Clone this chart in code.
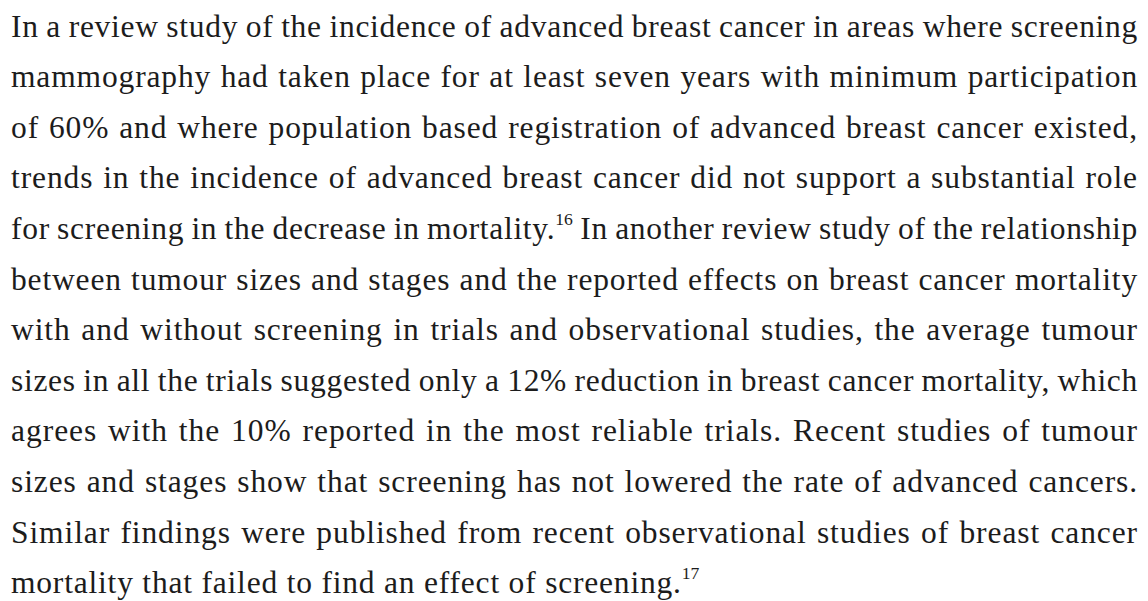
<!DOCTYPE html>
<html>
<head>
<meta charset="utf-8">
<script src="https://cdn.jsdelivr.net/npm/chart.js@4.4.1/dist/chart.umd.min.js"></script>
<style>
  html, body { margin: 0; padding: 0; background: #fff; }
  body { width: 1148px; height: 601px; overflow: hidden; }
  #para {
    position: absolute; left: 11px; top: 1.6px; width: 1127px;
    font-family: "Liberation Serif", "Times New Roman", serif;
    font-size: 31.5px; line-height: 50.6px; color: #1c1c1c;
  }
  .ln { white-space: nowrap; display: block; }
  sup { font-size: 56%; vertical-align: baseline; position: relative; top: -0.8em; line-height: 0; letter-spacing: 0; }
</style>
</head>
<body>
<div id="para"></div>
<script>
// the paragraph, one entry per printed line; ^n marks a superscript reference
const lines = [
  "In a review study of the incidence of advanced breast cancer in areas where screening",
  "mammography had taken place for at least seven years with minimum participation",
  "of 60% and where population based registration of advanced breast cancer existed,",
  "trends in the incidence of advanced breast cancer did not support a substantial role",
  "for screening in the decrease in mortality.^16 In another review study of the relationship",
  "between tumour sizes and stages and the reported effects on breast cancer mortality",
  "with and without screening in trials and observational studies, the average tumour",
  "sizes in all the trials suggested only a 12% reduction in breast cancer mortality, which",
  "agrees with the 10% reported in the most reliable trials. Recent studies of tumour",
  "sizes and stages show that screening has not lowered the rate of advanced cancers.",
  "Similar findings were published from recent observational studies of breast cancer",
  "mortality that failed to find an effect of screening.^17"
];

const para = document.getElementById('para');
const fullWidth = 1127;
const baseTrack = 0.8;   // the print has a little tracking

lines.forEach((txt, i) => {
  const div = document.createElement('div');
  div.className = 'ln';
  const span = document.createElement('span');
  span.innerHTML = txt.replace(/\^(\d+)/g, '<sup>$1</sup>');
  span.style.letterSpacing = baseTrack + 'px';
  div.appendChild(span);
  para.appendChild(div);

  if (i === lines.length - 1) return;   // last line is set ragged

  const natural = span.getBoundingClientRect().width;
  const spaces = (txt.match(/ /g) || []).length;
  const chars = txt.replace(/\^/g, '').length;
  const extra = fullWidth - natural;
  // part of the slack as tracking, the rest between words
  const ls = Math.max(-0.5, Math.min(1.8, baseTrack + extra / chars * 0.35));
  span.style.letterSpacing = ls + 'px';
  const w2 = span.getBoundingClientRect().width;
  span.style.wordSpacing = ((fullWidth - w2) / spaces) + 'px';
});
</script>
</body>
</html>
